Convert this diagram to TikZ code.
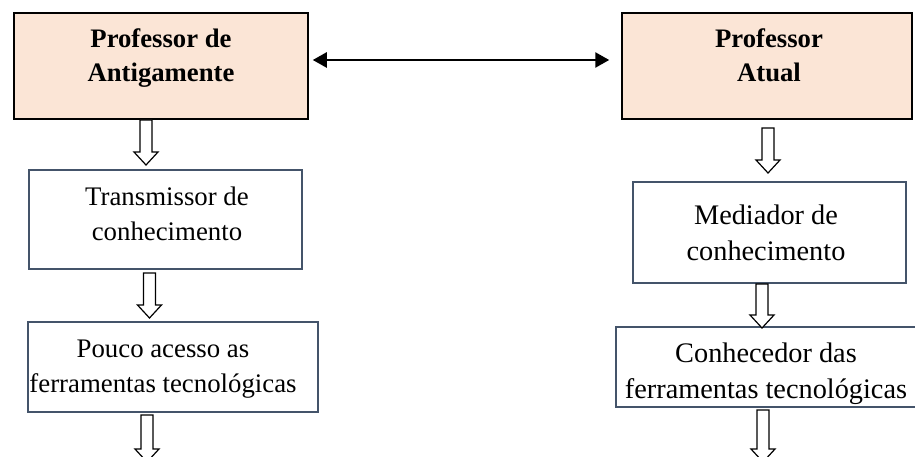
\documentclass[tikz,border=0pt]{standalone}
\usepackage{fontspec}
\setmainfont{Liberation Serif}
\usepackage{tikz}
\usetikzlibrary{calc,arrows.meta}
\definecolor{peach}{RGB}{251,229,214}
\definecolor{slateline}{RGB}{68,84,106}
\newcommand{\hollowdown}[2]{%
\draw[hollow] let \p1=(#1), \p2=(#2) in (\x1-6pt,\y1) -- (\x1+6pt,\y1) -- (\x1+6pt,\y2+13pt) -- (\x1+12pt,\y2+13pt) -- (\x1,\y2) -- (\x1-12pt,\y2+13pt) -- (\x1-6pt,\y2+13pt) -- cycle;}

\begin{document}
\begin{tikzpicture}[x=1pt, y=-1pt,
  topbox/.style={draw, line width=1.5pt, fill=peach},
  lowbox/.style={draw=slateline, line width=1.2pt},
  lbl/.style={align=center, inner sep=0pt, anchor=base},
  boldlbl/.style={lbl, font=\bfseries\fontsize{26.7}{34}\selectfont},
  leftlbl/.style={lbl, font=\fontsize{26.8}{35}\selectfont},
  rightlbl/.style={lbl, font=\fontsize{28.3}{36}\selectfont},
  hollow/.style={draw, line width=1.2pt, fill=white}]
\useasboundingbox (0,0) rectangle (915,457);
\node[topbox, minimum width=294pt, minimum height=106pt] (antig) at (161,66) {};
\node[topbox, minimum width=290pt, minimum height=106pt] (atual) at (767,66) {};
\node[lowbox, minimum width=273pt, minimum height=99pt] (trans) at (165.5,219.5) {};
\node[lowbox, minimum width=290pt, minimum height=90pt] (pouco) at (173,367) {};
\node[lowbox, minimum width=273pt, minimum height=101pt] (media) at (769.5,232.5) {};
\node[lowbox, minimum width=301pt, minimum height=80pt] (conhec) at (766.5,367) {};
\node[boldlbl] (antigtxt) at (161,82) {Professor de\\Antigamente};
\node[boldlbl] (atualtxt) at (769,82) {Professor\\Atual};
\node[leftlbl] (transtxt) at (167,240) {Transmissor de\\conhecimento};
\node[leftlbl] (poucotxt) at (163,392) {Pouco acesso as\\ferramentas tecnológicas};
\node[rightlbl] (mediatxt) at (766,260) {Mediador de\\conhecimento};
\node[rightlbl] (conhectxt) at (766,398) {Conhecedor das\\ferramentas tecnológicas};
\draw[{Triangle[length=14pt,width=15pt]}-{Triangle[length=14pt,width=15pt]}, line width=2.5pt, shorten <=4pt, shorten >=12pt] ([yshift=6pt]antig.east) -- ([yshift=6pt]atual.west);
\coordinate (a1top) at (146,120); \coordinate (a1bot) at (146,165);
\coordinate (a2top) at (149.5,273); \coordinate (a2bot) at (149.5,318);
\coordinate (a3top) at (147,415); \coordinate (a3bot) at (147,462);
\coordinate (b1top) at (768,128); \coordinate (b1bot) at (768,173);
\coordinate (b2top) at (762,284); \coordinate (b2bot) at (762,328);
\coordinate (b3top) at (763,410); \coordinate (b3bot) at (763,462);
\hollowdown{a1top}{a1bot}
\hollowdown{a2top}{a2bot}
\hollowdown{a3top}{a3bot}
\hollowdown{b1top}{b1bot}
\hollowdown{b2top}{b2bot}
\hollowdown{b3top}{b3bot}
\end{tikzpicture}
\end{document}
